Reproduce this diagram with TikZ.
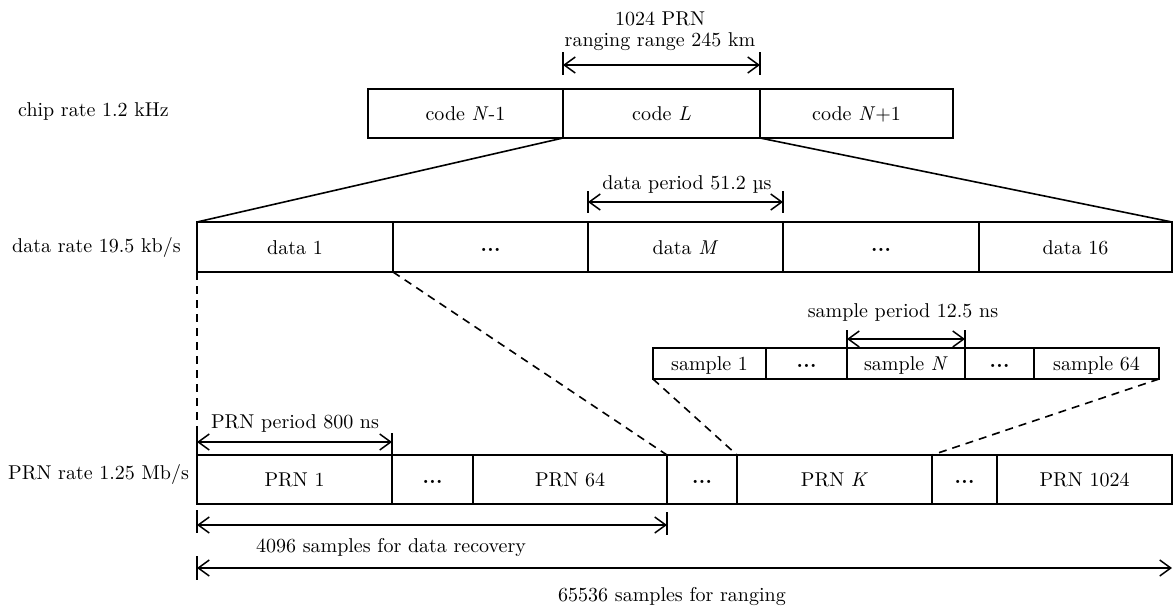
\documentclass[tikz,border=0pt]{standalone}
\usepackage{fontspec}
% the 10pt design of Latin Modern, used at every size
\setmainfont{lmroman10-regular.otf}[
  BoldFont=lmroman10-bold.otf,
  ItalicFont=lmroman10-italic.otf,
  BoldItalicFont=lmroman10-bolditalic.otf]
\usetikzlibrary{arrows.meta}

% three heavy dots used in the elided cells
\newcommand{\elided}{\raisebox{0.3ex}{\bfseries .\kern0.02em.\kern0.02em.}}
% a framed cell given by its left, right, top and bottom edges
\newcommand{\cellat}[6]{%
  \node[cell, minimum width={#3-#2}, minimum height={#5-#4}] (#1) at (#2,#4) {#6};}

\begin{document}
\begin{tikzpicture}[x=1pt, y=-1pt,
  every node/.style={font=\fontsize{20}{24}\selectfont},
  cell/.style={draw, line width=1.6pt, inner sep=0pt, outer sep=0pt,
    anchor=north west, text height=14pt, text depth=0pt},
  dimline/.style={line width=1.5pt, {Straight Barb[length=11pt,width=16pt]}-{Straight Barb[length=11pt,width=16pt]}},
  tickline/.style={line width=1.5pt},
  fan/.style={line width=1.6pt},
  fandash/.style={line width=1.6pt, dash pattern=on 8pt off 6pt},
  lbl/.style={anchor=base, inner sep=0pt},
  rowlbl/.style={anchor=base west, inner sep=0pt}]

\useasboundingbox (0,0) rectangle (1173,606);

% ---- row labels
\node[rowlbl] (lchip) at (18,116) {chip rate 1.2 kHz};
\node[rowlbl] (ldata) at (12,252) {data rate 19.5 kb/s};
\node[rowlbl] (lprn)  at (8,479)  {PRN rate 1.25 Mb/s};

% ---- code row
\cellat{code1}{368}{563}{89}{138}{code \textit{N}-1}
\cellat{code2}{563}{760}{89}{138}{code \textit{L}}
\cellat{code3}{760}{953}{89}{138}{code \textit{N}+1}

% ---- data row
\cellat{d1}{197}{393}{222}{272}{data 1}
\cellat{d2}{393}{588}{222}{272}{\elided}
\cellat{d3}{588}{783}{222}{272}{data \textit{M}}
\cellat{d4}{783}{979}{222}{272}{\elided}
\cellat{d5}{979}{1172}{222}{272}{data 16}

% ---- sample row
\cellat{s1}{653}{766}{348}{379}{sample 1}
\cellat{s2}{766}{847}{348}{379}{\elided}
\cellat{s3}{847}{965}{348}{379}{sample \textit{N}}
\cellat{s4}{965}{1034}{348}{379}{\elided}
\cellat{s5}{1034}{1159}{348}{379}{sample 64}

% ---- PRN row
\cellat{p1}{197}{392}{455}{504}{PRN 1}
\cellat{p2}{392}{473}{455}{504}{\elided}
\cellat{p3}{473}{667}{455}{504}{PRN 64}
\cellat{p4}{667}{737}{455}{504}{\elided}
\cellat{p5}{737}{932}{455}{504}{PRN \textit{K}}
\cellat{p6}{932}{997}{455}{504}{\elided}
\cellat{p7}{997}{1172}{455}{504}{PRN 1024}

% ---- expansion lines
\draw[fan] (code2.south west) -- (d1.north west);
\draw[fan] (code2.south east) -- (d5.north east);
\coordinate (prnTickTop) at (197,432);
\draw[fandash] (d1.south west) -- (prnTickTop);
\draw[fandash] (d1.south east) -- (p3.north east);
\draw[fandash] (s1.south west) -- (p5.north west);
\draw[fandash] (s5.south east) -- (p6.north west);

% ---- code period: 1024 PRN
\coordinate (cA) at (563,65); \coordinate (cB) at (760,65);
\draw[tickline] (563,52) -- (563,75);
\draw[tickline] (760,52) -- (760,75);
\draw[dimline] (cA) -- (cB);
\node[lbl] (t1024) at (660,25) {1024 PRN};
\node[lbl] (trange) at (660,46) {ranging range 245 km};

% ---- data period
\coordinate (dA) at (588,202); \coordinate (dB) at (783,202);
\draw[tickline] (588,191) -- (588,213);
\draw[tickline] (783,191) -- (783,213);
\draw[dimline] (dA) -- (dB);
\node[lbl] (tdata) at (687,189) {data period 51.2 µs};

% ---- sample period
\coordinate (sA) at (847,339); \coordinate (sB) at (965,339);
\draw[tickline] (847,330) -- (s3.north west);
\draw[tickline] (965,330) -- (s3.north east);
\draw[dimline] (sA) -- (sB);
\node[lbl] (tsample) at (903,317) {sample period 12.5 ns};

% ---- PRN period
\coordinate (pA) at (197,442); \coordinate (pB) at (392,442);
\draw[tickline] (prnTickTop) -- (p1.north west);
\draw[tickline] (392,433) -- (p1.north east);
\draw[dimline] (pA) -- (pB);
\node[lbl] (tprn) at (295,428) {PRN period 800 ns};

% ---- data recovery span
\coordinate (rA) at (197,525); \coordinate (rB) at (667,525);
\draw[tickline] (197,510) -- (197,533);
\draw[tickline] (667,512) -- (667,535);
\draw[dimline] (rA) -- (rB);
\node[lbl] (trec) at (391,552) {4096 samples for data recovery};

% ---- ranging span
\coordinate (gA) at (197,568); \coordinate (gB) at (1172,568);
\draw[tickline] (197,556) -- (197,580);
\draw[dimline] (gA) -- (gB);
\node[lbl] (tgrange) at (672,601) {65536 samples for ranging};

\end{tikzpicture}
\end{document}
